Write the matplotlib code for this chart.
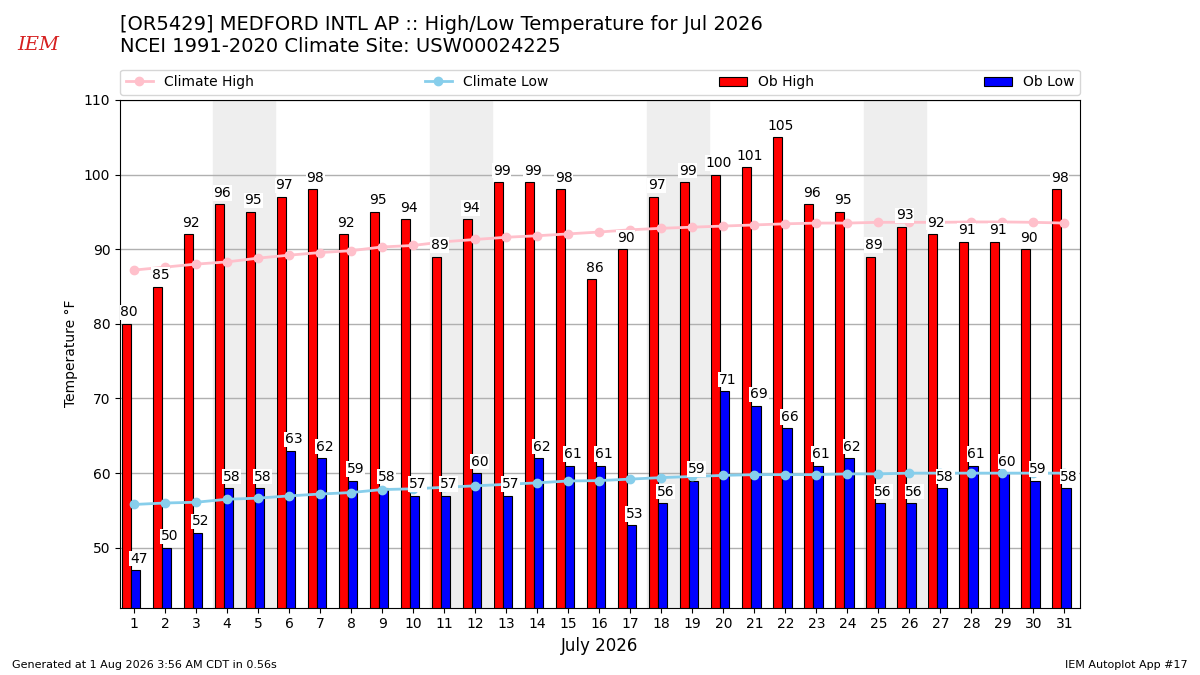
import matplotlib
matplotlib.use('Agg')
import matplotlib.pyplot as plt
import numpy as np

days = np.arange(1, 32)
ob_high = [80, 85, 92, 96, 95, 97, 98, 92, 95, 94, 89, 94, 99, 99, 98, 86,
           90, 97, 99, 100, 101, 105, 96, 95, 89, 93, 92, 91, 91, 90, 98]
ob_low = [47, 50, 52, 58, 58, 63, 62, 59, 58, 57, 57, 60, 57, 62, 61, 61,
          53, 56, 59, 71, 69, 66, 61, 62, 56, 56, 58, 61, 60, 59, 58]
clim_high = [87.2, 87.6, 88.0, 88.3, 88.8, 89.2, 89.55, 89.8, 90.3, 90.5,
             91.0, 91.3, 91.6, 91.8, 92.05, 92.3, 92.6, 92.8, 92.95, 93.1,
             93.25, 93.4, 93.5, 93.5, 93.6, 93.6, 93.6, 93.65, 93.65, 93.6, 93.5]
clim_low = [55.8, 56.0, 56.1, 56.5, 56.65, 56.95, 57.2, 57.4, 57.8, 57.9,
            58.1, 58.3, 58.5, 58.7, 58.95, 59.0, 59.2, 59.4, 59.55, 59.7,
            59.8, 59.8, 59.8, 59.9, 59.9, 60.0, 60.0, 60.0, 60.0, 60.0, 60.0]
weekend_starts = [4, 11, 18, 25]

fig = plt.figure(figsize=(12, 6.75), dpi=100)
ax = fig.add_axes([0.1, 0.1, 0.8, 0.752])

for d in weekend_starts:
    ax.axvspan(d - 0.45, d + 1.55, color='#EEEEEE', zorder=0)

ax.grid(True, axis='y', color='#b0b0b0', lw=1, zorder=1)
ax.set_axisbelow(True)

ax.bar(days - 0.4, ob_high, width=0.3, align='edge', fc='r', ec='k',
       lw=0.8, zorder=2, label='Ob High')
ax.bar(days - 0.1, ob_low, width=0.3, align='edge', fc='b', ec='k',
       lw=0.8, zorder=2, label='Ob Low')
ax.plot(days, clim_high, color='pink', marker='o', ms=6, lw=2, zorder=3,
        label='Climate High')
ax.plot(days, clim_low, color='skyblue', marker='o', ms=6, lw=2, zorder=3,
        label='Climate Low')

bbox = dict(fc='white', ec='none', pad=0.5)
for d, h, l in zip(days, ob_high, ob_low):
    ax.text(d - 0.15, h + 0.6, str(h), ha='center', va='bottom',
            fontsize=10, bbox=bbox, zorder=4)
    ax.text(d + 0.15, l + 0.6, str(l), ha='center', va='bottom',
            fontsize=10, bbox=bbox, zorder=4)

ax.set_xlim(0.55, 31.5)
ax.set_ylim(42, 110)
ax.set_xticks(days)
ax.set_yticks(range(50, 111, 10))
ax.set_xlabel('July 2026', fontsize=12)
ax.set_ylabel('Temperature °F')

ax.legend(loc='lower left', bbox_to_anchor=(0, 1.01, 1, 0.102), ncol=4,
          mode='expand', borderaxespad=0, fontsize=10)

fig.text(0.1, 1 - 15 / 675, '[OR5429] MEDFORD INTL AP :: High/Low Temperature for Jul 2026\n'
         'NCEI 1991-2020 Climate Site: USW00024225', va='top', ha='left', fontsize=14)
fig.text(0.032, 1 - 45 / 675, 'IEM', color='#d62020', fontsize=14, style='italic',
         family='serif', ha='center', va='center')
fig.text(0.01, 0.01, 'Generated at 1 Aug 2026 3:56 AM CDT in 0.56s', fontsize=8)
fig.text(0.99, 0.01, 'IEM Autoplot App #17', fontsize=8, ha='right')

fig.savefig('out.png', dpi=100)
